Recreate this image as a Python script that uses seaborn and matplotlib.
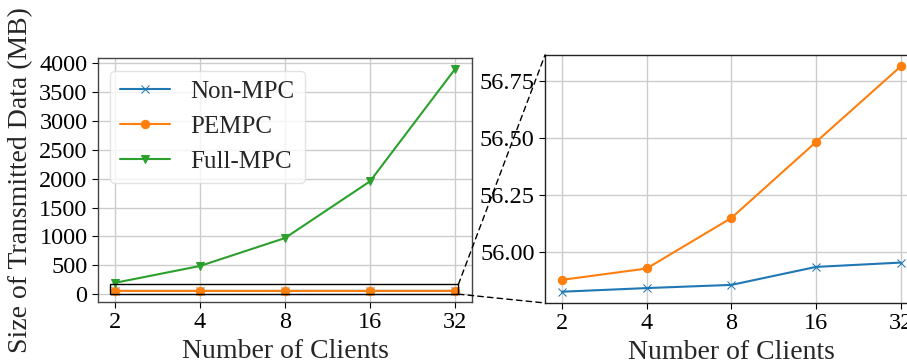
import matplotlib
matplotlib.use("Agg")
import matplotlib.pyplot as plt
from matplotlib.patches import Rectangle, ConnectionPatch
import seaborn as sns

# Transmitted data size (MB) per number of clients
clients = [2, 4, 8, 16, 32]
tick_labels = ["2", "4", "8", "16", "32"]
non_mpc = [55.825, 55.841, 55.855, 55.934, 55.953]
pempc = [55.877, 55.927, 56.149, 56.483, 56.815]
full_mpc = [196, 488, 972, 1955, 3900]

sns.set_theme(style="ticks")
plt.rcParams["font.family"] = ["Liberation Serif", "DejaVu Serif"]
plt.rcParams["xtick.labelsize"] = 17.5
plt.rcParams["ytick.labelsize"] = 17.5
plt.rcParams["axes.labelsize"] = 20

blue, orange, green = "#1f77b4", "#ff7f0e", "#2ca02c"

fig = plt.figure(figsize=(9.07, 3.62), dpi=100)
ax = fig.add_axes([0.108, 0.1657, 0.4124, 0.674])
axz = fig.add_axes([0.6009, 0.163, 0.411, 0.685])

# Main panel: all three schemes
sns.lineplot(x=clients, y=non_mpc, ax=ax, color=blue, marker="x", markersize=6,
             markeredgecolor=blue, linewidth=1.5, label="Non-MPC")
sns.lineplot(x=clients, y=pempc, ax=ax, color=orange, marker="o", markersize=6,
             markeredgecolor=orange, linewidth=1.5, label="PEMPC")
sns.lineplot(x=clients, y=full_mpc, ax=ax, color=green, marker="v", markersize=6,
             markeredgecolor=green, linewidth=1.5, label="Full-MPC")

# Zoomed panel: the two low-cost schemes
sns.lineplot(x=clients, y=non_mpc, ax=axz, color=blue, marker="x", markersize=6,
             markeredgecolor=blue, linewidth=1.5)
sns.lineplot(x=clients, y=pempc, ax=axz, color=orange, marker="o", markersize=6,
             markeredgecolor=orange, linewidth=1.5)

for a, spine_col in ((ax, "#444444"), (axz, "#222222")):
    a.set_xscale("log", base=2)
    a.set_xticks(clients)
    a.set_xticklabels(tick_labels)
    a.minorticks_off()
    a.set_xlabel("Number of Clients")
    a.grid(True, color="#cccccc", linewidth=1.0)
    a.set_axisbelow(True)
    for s in a.spines.values():
        s.set_color(spine_col)
        s.set_linewidth(1.0)
    a.tick_params(colors="black", length=4, width=0.8)

ax.set_yticks(range(0, 4001, 500))
ax.set_ylabel("Size of Transmitted Data (MB)")
axz.set_yticks([56.00, 56.25, 56.50, 56.75])
axz.set_yticklabels(["56.00", "56.25", "56.50", "56.75"])

leg = ax.legend(loc="upper left", fontsize=18, framealpha=0.8,
                edgecolor="#dddddd", handlelength=2.0)

# Region highlighted on the main panel and links to the zoomed panel
x0, x1, y0, y1 = 1.92, 32.9, 0, 170
ax.add_patch(Rectangle((x0, y0), x1 - x0, y1 - y0, fill=False,
                       edgecolor="black", linewidth=1.0, zorder=5))
for ya, yb in ((y1, 1.0), (y0, 0.0)):
    con = ConnectionPatch(xyA=(x1, ya), coordsA=ax.transData,
                          xyB=(0.0, yb), coordsB=axz.transAxes,
                          linestyle=(0, (4, 3)), color="black", linewidth=1.0)
    fig.add_artist(con)

fig.savefig("out.png", dpi=100)
